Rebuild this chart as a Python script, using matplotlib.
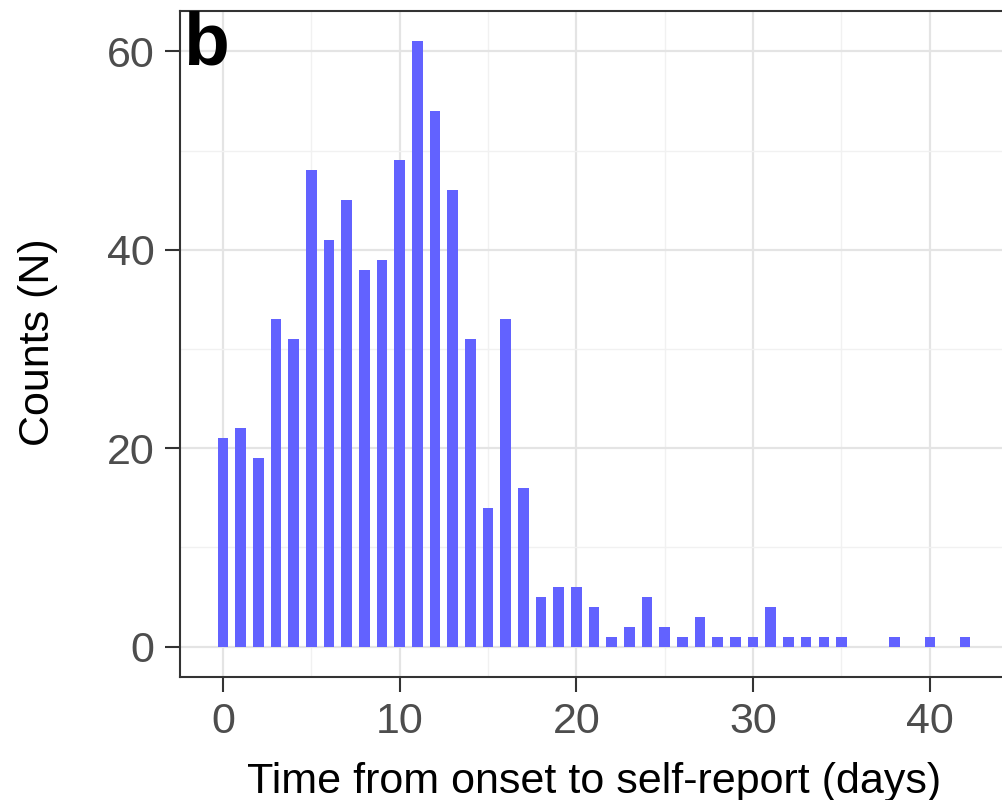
import matplotlib
matplotlib.use("Agg")
import matplotlib.pyplot as plt
import numpy as np

plt.rcParams['font.family'] = ['Liberation Sans', 'DejaVu Sans']

days = list(range(0, 43))
counts = [21, 22, 19, 33, 31, 48, 41, 45, 38, 39,
          49, 61, 54, 46, 31, 14, 33, 16, 5, 6,
          6, 4, 1, 2, 5, 2, 1, 3, 1, 1,
          1, 4, 1, 1, 1, 1, 0, 0, 1, 0,
          1, 0, 1]

fig = plt.figure(figsize=(10.02, 8), dpi=100)
ax = fig.add_axes([0.1796, 0.154, 0.826, 0.832])

# one bar per day; days with zero counts leave an empty slot
ax.bar(days, counts, width=0.6, color='#6262ff', zorder=3)

ax.set_xlim(-2.43, 44.4)
ax.set_ylim(-3.05, 64.05)

ax.set_xticks([0, 10, 20, 30, 40])
ax.set_yticks([0, 20, 40, 60])
ax.set_xticks([5, 15, 25, 35], minor=True)
ax.set_yticks([10, 30, 50], minor=True)

ax.grid(which='major', color='#e4e4e4', linewidth=1.6, zorder=0)
ax.grid(which='minor', color='#f1f1f1', linewidth=1.0, zorder=0)

for s in ax.spines.values():
    s.set_color('#333333')
    s.set_linewidth(1.5)

ax.tick_params(which='major', length=10.5, width=1.5, color='#333333',
               labelsize=31, labelcolor='#4d4d4d', pad=8)
ax.tick_params(which='minor', length=0)

# axis titles placed in figure coords
fig.text(0.5933, 0.009, 'Time from onset to self-report (days)',
         fontsize=31, ha='center', va='baseline')
fig.text(0.038, 0.5725, 'Counts (N)', fontsize=31, rotation=90,
         ha='center', va='center')

fig.text(0.1826, 0.919, 'b', fontsize=54, fontweight='bold',
         va='baseline', ha='left')

fig.savefig('out.png', dpi=100)
